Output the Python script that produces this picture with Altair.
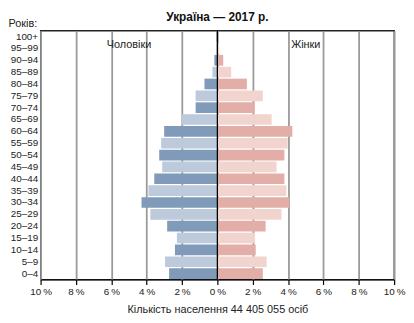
import altair as alt
import pandas as pd

ages = ["0–4", "5–9", "10–14", "15–19", "20–24", "25–29", "30–34", "35–39", "40–44",
        "45–49", "50–54", "55–59", "60–64", "65–69", "70–74", "75–79", "80–84",
        "85–89", "90–94", "95–99", "100+"]
male = [2.73, 2.96, 2.40, 2.29, 2.84, 3.79, 4.29, 3.90, 3.57, 3.12, 3.29, 3.18,
        3.01, 2.03, 1.23, 1.23, 0.73, 0.28, 0.17, 0.05, 0.05]
female = [2.57, 2.79, 2.17, 2.12, 2.73, 3.63, 4.07, 3.90, 3.79, 3.35, 3.79, 3.98,
          4.24, 3.07, 2.12, 2.57, 1.67, 0.78, 0.33, 0.10, 0.02]
ticks = [-10, -8, -6, -4, -2, 0, 2, 4, 6, 8, 10]
title_text = "Україна — 2017 р."
x_title = "Кількість населення 44 405 055 осіб"

FONT = "Liberation Sans, Arial, sans-serif"

rows = []
for i, a in enumerate(ages):
    shade = "d" if i % 2 == 0 else "l"
    rows.append({"age": a, "value": -male[i], "key": "m" + shade})
    rows.append({"age": a, "value": female[i], "key": "f" + shade})
df = pd.DataFrame(rows)
order = list(reversed(ages))

xscale = alt.Scale(domain=[-10, 10], nice=False)
xaxis = alt.Axis(values=ticks, tickCount=len(ticks), grid=True,
                 gridColor="#9a9a9a", gridWidth=1.8,
                 labelExpr="format(abs(datum.value), 'd') + '\u2009%'",
                 labelOverlap=False, labelFlush=False,
                 tickColor="black", tickSize=5, tickWidth=1.2,
                 domainColor="black", domainWidth=1.2,
                 labelFont=FONT, labelFontSize=10, labelColor="#222",
                 title=x_title,
                 titleFont=FONT, titleFontSize=11, titleFontWeight="normal",
                 titleColor="#222", titlePadding=7)

bars = alt.Chart(df).mark_bar().encode(
    x=alt.X("value:Q", scale=xscale, axis=xaxis),
    y=alt.Y("age:N", sort=order,
            scale=alt.Scale(paddingInner=0.1, paddingOuter=0.05),
            axis=alt.Axis(ticks=False, domain=False, labelFont=FONT, labelFontSize=10,
                          labelColor="#222", labelPadding=3,
                          title="Років:", titleAngle=0, titleAlign="left",
                          titleBaseline="bottom", titleX=-33, titleY=-2,
                          titleFont=FONT, titleFontSize=11, titleFontWeight="normal",
                          titleColor="#222")),
    color=alt.Color("key:N", scale=alt.Scale(domain=["md", "ml", "fd", "fl"],
                                             range=["#7f9bb9", "#bccadb", "#e3aea7", "#f2d4cf"]),
                    legend=None),
)

zero = alt.Chart(pd.DataFrame({"v": [0]})).mark_rule(color="black", strokeWidth=1.3).encode(
    x=alt.X("v:Q", scale=xscale, axis=xaxis)
)

labels = alt.Chart(pd.DataFrame({"v": [-5, 5], "t": ["Чоловіки", "Жінки"]})).mark_text(
    font=FONT, fontSize=11, color="#222", baseline="middle"
).encode(x=alt.X("v:Q", scale=xscale, axis=xaxis), y=alt.value(15), text="t:N")

title = alt.Chart(pd.DataFrame({"t": [title_text]})).mark_text(
    font=FONT, fontSize=12, fontWeight="bold", color="#111", baseline="middle"
).encode(x=alt.value(179), y=alt.value(-14), text="t:N")

chart = alt.layer(bars, zero, labels, title).properties(
    width=358, height=252,
    autosize=alt.AutoSizeParams(type="none"),
    padding={"left": 33, "top": 21, "right": 12, "bottom": 34},
).configure_view(stroke="#222", strokeWidth=1.4)

chart.save("out.html", embed_options={"renderer": "svg", "actions": False})
